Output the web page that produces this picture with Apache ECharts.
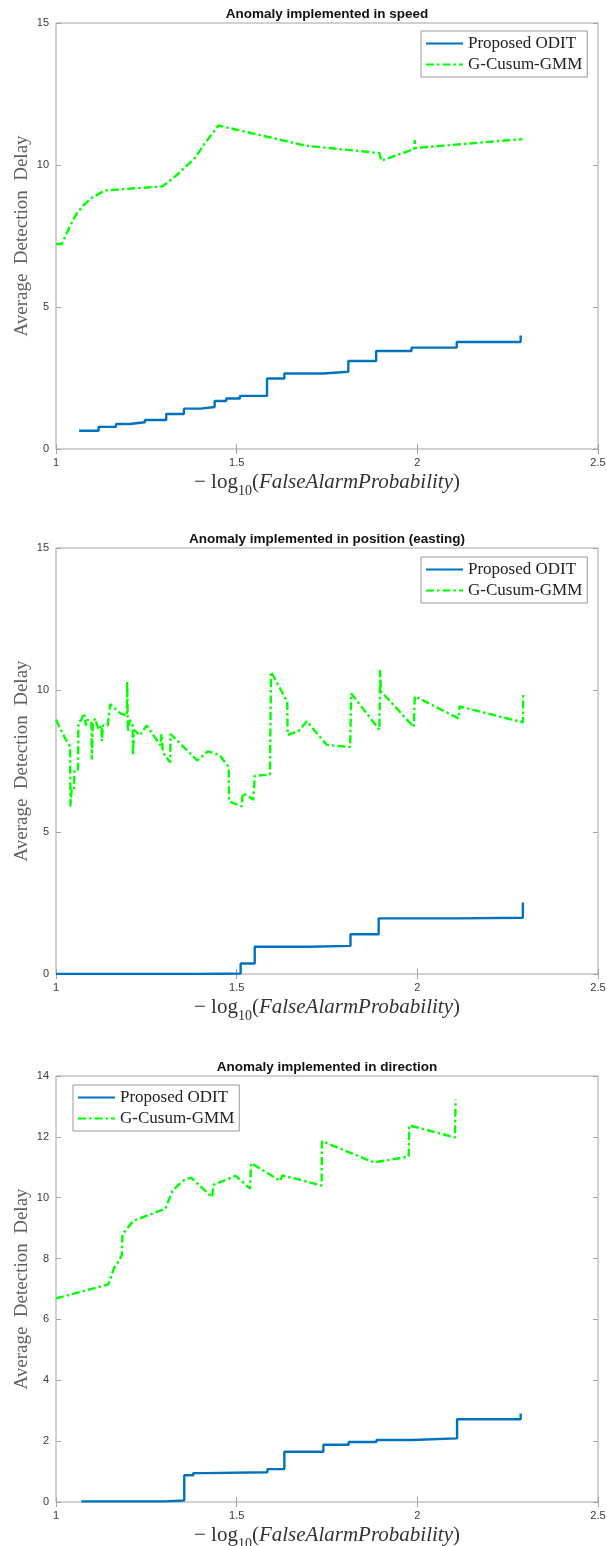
<!DOCTYPE html>
<html>
<head>
<meta charset="utf-8">
<script src="https://cdn.jsdelivr.net/npm/echarts@6/dist/echarts.min.js"></script>
<style>
  html, body { margin: 0; padding: 0; background: #fff; }
  #chart { width: 607px; height: 1546px; }
</style>
</head>
<body>
<div id="chart"></div>
<script>
// ---- data -------------------------------------------------------------
const panelTitles = [
  'Anomaly implemented in speed',
  'Anomaly implemented in position (easting)',
  'Anomaly implemented in direction'
];
const seriesNames = ['Proposed ODIT', 'G-Cusum-GMM'];
const xTicks = [1, 1.5, 2, 2.5];
const yTicksSpeed = [0, 5, 10, 15];
const yTicksEasting = [0, 5, 10, 15];
const yTicksDirection = [0, 2, 4, 6, 8, 10, 12, 14];

// ODIT delays are stair levels: each value holds until the next x
const speedOdit = [
  [1.064, 0.64], [1.118, 0.78], [1.166, 0.88], [1.204, 0.94], [1.246, 1.02],
  [1.305, 1.23], [1.354, 1.42], [1.400, 1.48], [1.439, 1.69], [1.471, 1.78],
  [1.509, 1.87], [1.584, 2.48], [1.632, 2.66], [1.739, 2.72], [1.809, 3.10],
  [1.886, 3.45], [1.984, 3.57], [2.109, 3.77], [2.286, 4.00]
];
const speedGcusum = [
  [1.000, 7.22], [1.016, 7.22], [1.035, 7.75], [1.055, 8.25], [1.075, 8.57],
  [1.100, 8.85], [1.134, 9.10], [1.295, 9.25], [1.330, 9.60], [1.360, 9.95],
  [1.386, 10.27], [1.410, 10.73], [1.450, 11.39], [1.691, 10.68], [1.696, 10.72],
  [1.895, 10.42], [1.900, 10.15], [1.991, 10.56], [1.993, 10.88], [1.995, 10.60],
  [2.291, 10.91]
];

const eastingOdit = [
  [1.000, 0.00], [1.390, 0.02], [1.511, 0.37], [1.550, 0.96], [1.700, 0.99],
  [1.815, 1.40], [1.893, 1.96], [2.114, 1.98], [2.292, 2.52]
];
const eastingGcusum = [
  [1.000, 8.95], [1.025, 8.30], [1.039, 8.01], [1.040, 5.90], [1.043, 6.45],
  [1.050, 6.45], [1.051, 7.20], [1.061, 7.20], [1.062, 8.85], [1.070, 8.95],
  [1.078, 9.18], [1.083, 8.75], [1.086, 8.95], [1.098, 8.90], [1.099, 7.55],
  [1.102, 8.80], [1.108, 9.00], [1.118, 8.60], [1.126, 8.75], [1.127, 8.20],
  [1.130, 8.75], [1.143, 8.75], [1.150, 9.50], [1.178, 9.18], [1.196, 9.10],
  [1.197, 10.30], [1.199, 8.55], [1.204, 8.95], [1.212, 8.80], [1.213, 7.70],
  [1.216, 8.60], [1.232, 8.40], [1.251, 8.75], [1.289, 8.05], [1.292, 8.45],
  [1.296, 7.80], [1.316, 7.45], [1.317, 8.45], [1.391, 7.52], [1.420, 7.84],
  [1.452, 7.72], [1.478, 7.28], [1.479, 6.08], [1.514, 5.90], [1.517, 6.37],
  [1.546, 6.14], [1.550, 6.98], [1.592, 7.02], [1.595, 10.64], [1.640, 9.59],
  [1.641, 8.42], [1.671, 8.55], [1.694, 8.90], [1.749, 8.07], [1.814, 7.99],
  [1.817, 9.88], [1.895, 8.60], [1.897, 10.70], [1.899, 9.96], [1.990, 8.70],
  [1.993, 9.78], [2.114, 9.00], [2.117, 9.42], [2.292, 8.86], [2.293, 9.88]
];

const directionOdit = [
  [1.070, 0.02], [1.300, 0.05], [1.355, 0.88], [1.380, 0.95], [1.410, 0.98],
  [1.585, 1.08], [1.632, 1.65], [1.740, 1.88], [1.810, 1.97], [1.887, 2.04],
  [1.985, 2.09], [2.110, 2.72], [2.286, 2.91]
];
const directionGcusum = [
  [1.000, 6.69], [1.145, 7.15], [1.161, 7.70], [1.170, 7.85], [1.182, 8.10],
  [1.184, 8.80], [1.214, 9.24], [1.303, 9.64], [1.322, 10.22], [1.350, 10.55],
  [1.374, 10.66], [1.432, 10.02], [1.436, 10.42], [1.497, 10.72], [1.537, 10.30],
  [1.540, 11.14], [1.621, 10.55], [1.626, 10.73], [1.672, 10.60], [1.735, 10.40],
  [1.736, 11.86], [1.880, 11.16], [1.976, 11.35], [1.978, 12.38], [2.104, 11.98],
  [2.106, 13.23]
];

// ---- styling & layout -------------------------------------------------
const SERIF = '"Liberation Serif", "Times New Roman", serif';
const SANS = '"Liberation Sans", Arial, Helvetica, sans-serif';
const BOX = '#a3a3a3';
const TICK_TEXT = '#3a3a3a';
const BLUE = '#0072BD';
const GREEN = '#00FF00';

const plotLeft = 56, plotRight = 9, plotHeight = 426;
const plotTops = [23, 548, 1076];
const legendPos = [
  { left: 421, top: 31 },
  { left: 421, top: 557 },
  { left: 73, top: 1085 }
];

const panels = [
  { yTicks: yTicksSpeed, odit: speedOdit, gcusum: speedGcusum },
  { yTicks: yTicksEasting, odit: eastingOdit, gcusum: eastingGcusum },
  { yTicks: yTicksDirection, odit: directionOdit, gcusum: directionGcusum }
];

const xNameRich = {
  n: { fontFamily: SERIF, fontSize: 21, color: '#333', verticalAlign: 'top', lineHeight: 24 },
  s: { fontFamily: SERIF, fontSize: 14, color: '#333', verticalAlign: 'top', lineHeight: 14, padding: [12, 0, 0, 0] },
  i: { fontFamily: SERIF, fontSize: 21, color: '#333', fontStyle: 'italic', verticalAlign: 'top', lineHeight: 24 }
};

const grid = [], xAxis = [], yAxis = [], series = [], title = [], legend = [];

panels.forEach((p, g) => {
  const xMin = xTicks[0], xMax = xTicks[xTicks.length - 1], xStep = xTicks[1] - xTicks[0];
  const yMin = p.yTicks[0], yMax = p.yTicks[p.yTicks.length - 1], yStep = p.yTicks[1] - p.yTicks[0];

  grid.push({
    left: plotLeft, right: plotRight, top: plotTops[g], height: plotHeight,
    show: true, borderColor: BOX, borderWidth: 1, backgroundColor: '#fff',
    outerBoundsMode: 'none'
  });

  title.push({
    text: panelTitles[g],
    left: plotLeft + (607 - plotLeft - plotRight) / 2,
    textAlign: 'center',
    top: plotTops[g] - 16,
    padding: 0,
    textStyle: { fontFamily: SANS, fontSize: 13.5, fontWeight: 'bold', color: '#111' }
  });

  const tickStyle = { show: true, inside: true, length: 5, lineStyle: { color: BOX, width: 1 } };

  // bottom axis with labels and name
  xAxis.push({
    gridIndex: g, type: 'value', position: 'bottom',
    min: xMin, max: xMax, interval: xStep,
    axisLine: { show: false }, splitLine: { show: false },
    axisTick: tickStyle,
    axisLabel: { margin: 8, fontFamily: SANS, fontSize: 11, color: TICK_TEXT },
    name: '{n|− log}{s|10}{n|(}{i|FalseAlarmProbability}{n|)}',
    nameLocation: 'middle', nameGap: 23, nameMoveOverlap: false,
    nameTextStyle: { rich: xNameRich }
  });
  // top axis: mirrored tick marks only
  xAxis.push({
    gridIndex: g, type: 'value', position: 'top',
    min: xMin, max: xMax, interval: xStep,
    axisLine: { show: false }, splitLine: { show: false },
    axisTick: tickStyle, axisLabel: { show: false }
  });

  yAxis.push({
    gridIndex: g, type: 'value', position: 'left',
    min: yMin, max: yMax, interval: yStep,
    axisLine: { show: false }, splitLine: { show: false },
    axisTick: tickStyle,
    axisLabel: { margin: 7, fontFamily: SANS, fontSize: 11, color: TICK_TEXT },
    name: 'Average  Detection  Delay',
    nameLocation: 'middle', nameGap: 24, nameMoveOverlap: false,
    nameTextStyle: { fontFamily: SERIF, fontSize: 19, color: '#606060' }
  });
  yAxis.push({
    gridIndex: g, type: 'value', position: 'right',
    min: yMin, max: yMax, interval: yStep,
    axisLine: { show: false }, splitLine: { show: false },
    axisTick: tickStyle, axisLabel: { show: false }
  });

  series.push({
    name: seriesNames[0], type: 'line',
    xAxisIndex: 2 * g, yAxisIndex: 2 * g,
    data: p.odit, step: 'end',
    symbol: 'none', showSymbol: false, silent: true,
    lineStyle: { color: BLUE, width: 2.4 },
    itemStyle: { color: BLUE },
    z: 3
  });
  series.push({
    name: seriesNames[1], type: 'line',
    xAxisIndex: 2 * g, yAxisIndex: 2 * g,
    data: p.gcusum,
    symbol: 'none', showSymbol: false, silent: true,
    lineStyle: { color: GREEN, width: 2.4, type: [8, 3, 2.5, 3] },
    itemStyle: { color: GREEN },
    z: 2
  });

  legend.push({
    data: seriesNames,
    orient: 'vertical',
    left: legendPos[g].left, top: legendPos[g].top,
    padding: [4, 5, 4, 4],
    itemGap: 4, itemWidth: 37, itemHeight: 14,
    backgroundColor: '#fff', borderColor: '#999', borderWidth: 1, borderRadius: 0,
    selectedMode: false,
    itemStyle: { opacity: 0 },
    textStyle: { fontFamily: SERIF, fontSize: 17, color: '#222' }
  });
});

const chart = echarts.init(document.getElementById('chart'), null, { renderer: 'canvas' });
chart.setOption({
  animation: false,
  backgroundColor: '#fff',
  title, grid, xAxis, yAxis, series, legend,
  tooltip: { show: false }
});
</script>
</body>
</html>
